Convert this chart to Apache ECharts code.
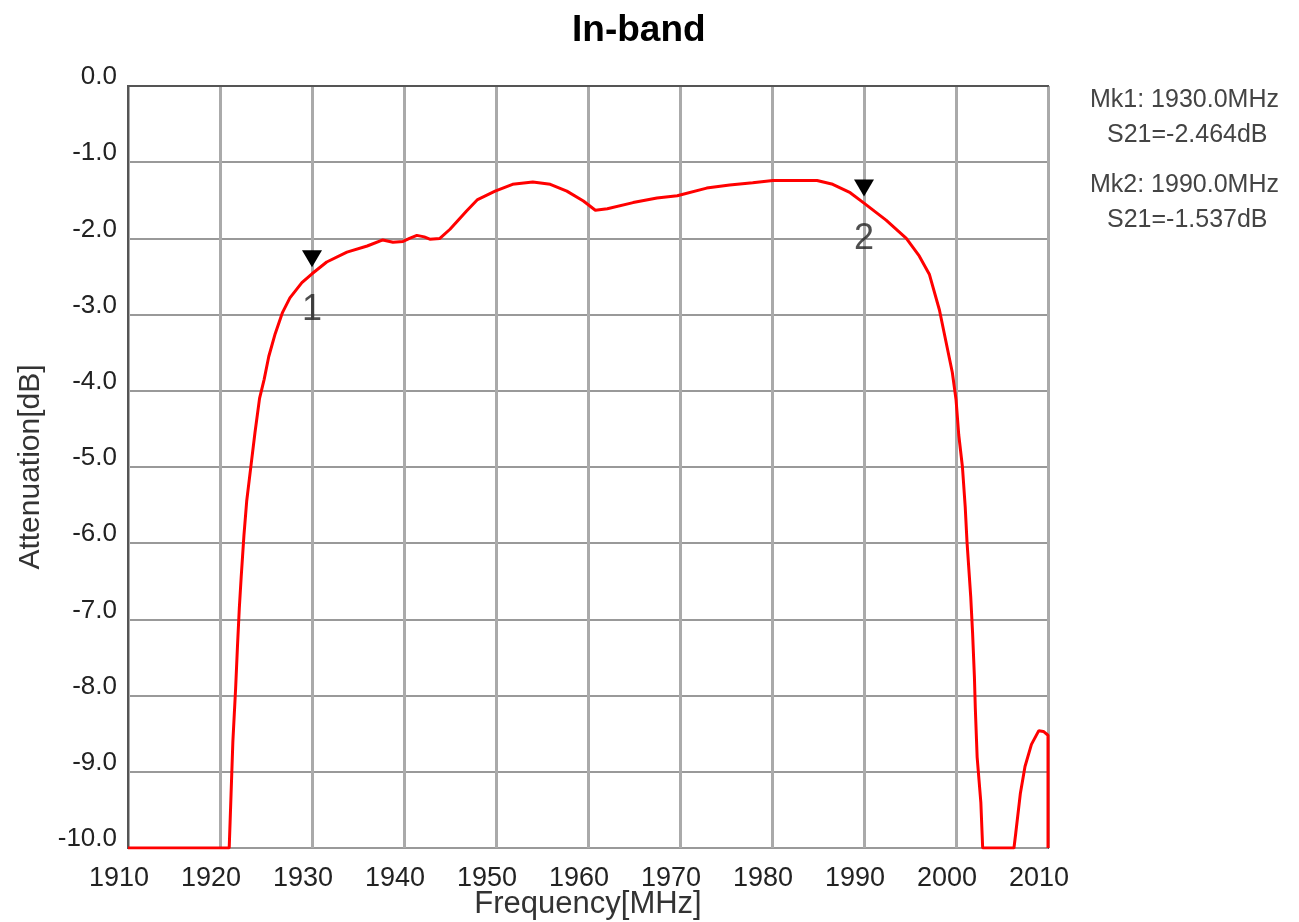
<!DOCTYPE html>
<html>
<head>
<meta charset="utf-8">
<title>In-band</title>
<script src="https://cdn.jsdelivr.net/npm/echarts@6/dist/echarts.min.js"></script>
<style>
  html, body { margin: 0; padding: 0; background: #fff; }
  #chart { width: 1299px; height: 922px; }
</style>
</head>
<body>
<div id="chart"></div>
<script>
// 频率点 (MHz)
var freq = [
  1910, 1921.0, 1921.2, 1921.4, 1921.7, 1921.9, 1922.1, 1922.3, 1922.6, 1922.9,
  1923.4, 1923.8, 1924.3, 1924.8, 1925.3, 1926.0, 1926.8, 1927.6, 1928.9, 1930.0,
  1931.6, 1933.8, 1936.0, 1937.7, 1938.8, 1939.9, 1940.6, 1941.4, 1942.2, 1942.8,
  1943.9, 1945.0, 1946.8, 1948.0, 1949.9, 1951.8, 1954.0, 1955.9, 1957.7, 1959.5,
  1960.8, 1962.1, 1964.9, 1967.5, 1969.7, 1972.9, 1975.4, 1977.9, 1980.1, 1984.9,
  1986.6, 1988.5, 1990.0, 1992.4, 1994.6, 1996.0, 1997.1, 1998.2, 1998.9, 1999.6,
  2000.0, 2000.3, 2000.7, 2001.0, 2001.2, 2001.6, 2001.8, 2002.0, 2002.1, 2002.3,
  2002.7, 2002.9, 2006.3, 2006.5, 2007.0, 2007.5, 2008.2, 2009.0, 2009.5, 2010.0,
  2010.0
];
// S21 (dB)
var s21 = [
  -10, -10, -9.3, -8.6, -7.9, -7.35, -6.85, -6.45, -5.9, -5.45,
  -4.95, -4.55, -4.1, -3.85, -3.55, -3.25, -2.97, -2.78, -2.58, -2.464,
  -2.31, -2.18, -2.10, -2.02, -2.05, -2.04, -2.0, -1.96, -1.98, -2.01,
  -2.0, -1.88, -1.64, -1.49, -1.38, -1.29, -1.26, -1.29, -1.38, -1.51,
  -1.63, -1.61, -1.53, -1.47, -1.44, -1.34, -1.30, -1.27, -1.24, -1.24,
  -1.29, -1.40, -1.537, -1.76, -2.0, -2.23, -2.47, -2.94, -3.35, -3.76,
  -4.11, -4.58, -5.0, -5.52, -5.99, -6.70, -7.17, -7.75, -8.17, -8.81,
  -9.40, -10, -10, -9.8, -9.28, -8.93, -8.64, -8.46, -8.47, -8.52,
  -10
];
// 标记点
var markerFreq = [1930, 1990];
var markerVal = [-2.464, -1.537];

var font = 'Arial, "Liberation Sans", sans-serif';

var chart = echarts.init(document.getElementById('chart'));

var lineData = freq.map(function (f, i) { return [f, s21[i]]; });
var markerData = markerFreq.map(function (f, i) { return [f, markerVal[i]]; });

// 右侧的标记读数
var readouts = [];
markerFreq.forEach(function (f, i) {
  var top = 88 + i * 85;
  readouts.push({
    type: 'text', left: 1090, top: top,
    style: { text: 'Mk' + (i + 1) + ': ' + f.toFixed(1) + 'MHz', font: '25px ' + font, fill: '#444' }
  });
  readouts.push({
    type: 'text', left: 1107, top: top + 35,
    style: { text: 'S21=' + markerVal[i].toFixed(3) + 'dB', font: '25px ' + font, fill: '#444' }
  });
});

var option = {
  backgroundColor: '#fff',
  animation: false,
  title: {
    text: 'In-band',
    left: 567,
    top: 7,
    textStyle: { fontSize: 37, fontWeight: 'bold', color: '#000', fontFamily: font }
  },
  grid: {
    left: 128, right: 251, top: 86, bottom: 74,
    outerBoundsMode: 'none',
    show: true, borderColor: '#555', borderWidth: 2
  },
  xAxis: {
    type: 'value',
    min: 1910, max: 2010, interval: 10,
    name: 'Frequency[MHz]',
    nameLocation: 'middle',
    nameGap: 41,
    nameMoveOverlap: false,
    nameTextStyle: { fontSize: 31, color: '#333', fontFamily: font },
    axisLine: { lineStyle: { color: '#555', width: 2 } },
    axisTick: { show: false },
    axisLabel: {
      fontSize: 27, color: '#222', fontFamily: font, margin: 17, padding: [0, 18, 0, 0],
      formatter: function (v) { return String(v); }
    },
    splitLine: { lineStyle: { color: '#aaa', width: 3 } }
  },
  yAxis: {
    type: 'value',
    min: -10, max: 0, interval: 1,
    name: 'Attenuation[dB]',
    nameLocation: 'middle',
    nameGap: 82,
    nameMoveOverlap: false,
    nameTextStyle: { fontSize: 30, color: '#333', fontFamily: font },
    axisLine: { show: true, lineStyle: { color: '#555', width: 2 } },
    axisTick: { show: false },
    axisLabel: {
      fontSize: 26, color: '#222', fontFamily: font, margin: 11,
      verticalAlign: 'bottom', lineHeight: 18,
      formatter: function (v) { return v.toFixed(1); }
    },
    splitLine: { lineStyle: { color: '#999', width: 2 } }
  },
  graphic: readouts,
  series: [
    {
      name: 'S21',
      type: 'line',
      data: lineData,
      showSymbol: false,
      lineStyle: { color: '#ff0000', width: 3 },
      z: 3
    },
    {
      // 倒三角标记
      name: 'markers',
      type: 'scatter',
      data: markerData,
      symbol: 'triangle',
      symbolRotate: 180,
      symbolSize: [20, 17],
      symbolOffset: [0, -15],
      itemStyle: { color: '#000', opacity: 1 },
      z: 4
    },
    {
      // 标记编号
      name: 'markerLabels',
      type: 'scatter',
      data: markerData,
      symbolSize: 1,
      itemStyle: { color: 'transparent' },
      label: {
        show: true,
        position: 'inside',
        offset: [0, 36],
        fontSize: 36,
        color: '#222',
        fontFamily: font,
        formatter: function (p) { return String(p.dataIndex + 1); }
      },
      z: 4
    }
  ]
};

chart.setOption(option);
</script>
</body>
</html>
